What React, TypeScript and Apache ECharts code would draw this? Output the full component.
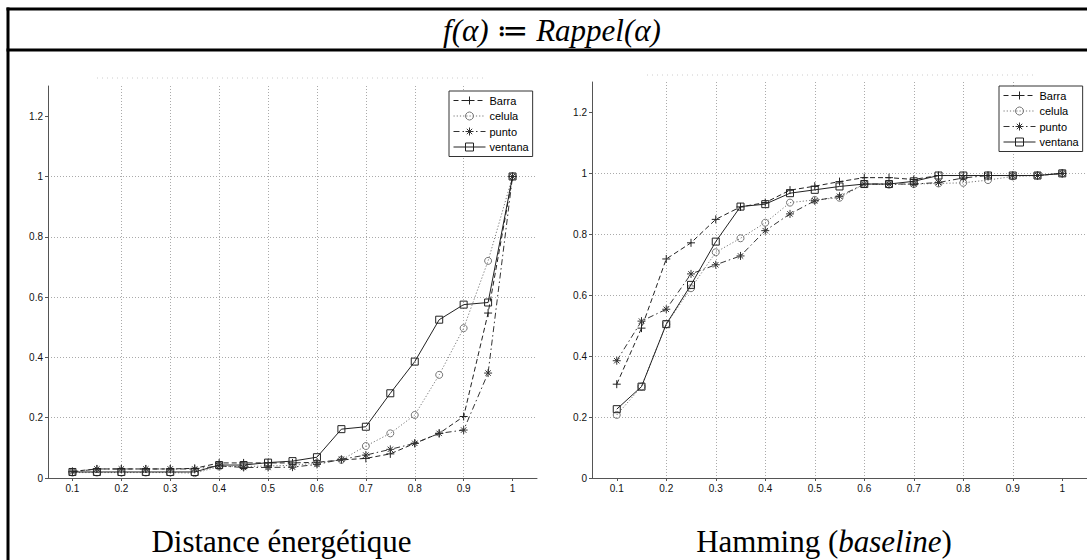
import React, { useEffect, useRef } from 'react';
import * as echarts from 'echarts';

// ---------- data ----------
const alphas = [0.1, 0.15, 0.2, 0.25, 0.3, 0.35, 0.4, 0.45, 0.5, 0.55, 0.6, 0.65, 0.7, 0.75, 0.8, 0.85, 0.9, 0.95, 1.0];
const xTickValues = [0.1, 0.2, 0.3, 0.4, 0.5, 0.6, 0.7, 0.8, 0.9, 1];
const yTickValues = [0, 0.2, 0.4, 0.6, 0.8, 1, 1.2];
const seriesNames = ['Barra', 'celula', 'punto', 'ventana'];

// Distance énergétique (left)
const energyBarra = [0.022, 0.03, 0.03, 0.03, 0.03, 0.032, 0.05, 0.05, 0.05, 0.05, 0.052, 0.06, 0.065, 0.08, 0.115, 0.148, 0.204, 0.547, 1.0];
const energyCelula = [0.018, 0.018, 0.018, 0.018, 0.018, 0.016, 0.038, 0.038, 0.04, 0.042, 0.05, 0.06, 0.106, 0.148, 0.209, 0.342, 0.497, 0.72, 1.0];
const energyPunto = [0.02, 0.03, 0.03, 0.03, 0.03, 0.03, 0.04, 0.035, 0.035, 0.036, 0.045, 0.062, 0.076, 0.095, 0.115, 0.148, 0.159, 0.348, 1.0];
const energyVentana = [0.02, 0.02, 0.02, 0.02, 0.02, 0.02, 0.043, 0.043, 0.051, 0.056, 0.069, 0.162, 0.17, 0.281, 0.386, 0.525, 0.575, 0.582, 1.0];

// Hamming (baseline) (right)
const hammingBarra = [0.308, 0.492, 0.719, 0.772, 0.849, 0.89, 0.904, 0.945, 0.958, 0.973, 0.986, 0.986, 0.98, 0.993, 0.993, 0.993, 0.993, 0.993, 1.0];
const hammingCelula = [0.207, 0.3, 0.505, 0.623, 0.741, 0.787, 0.838, 0.904, 0.913, 0.92, 0.965, 0.963, 0.965, 0.967, 0.969, 0.978, 0.99, 0.993, 1.0];
const hammingPunto = [0.385, 0.515, 0.554, 0.67, 0.7, 0.729, 0.812, 0.867, 0.91, 0.925, 0.965, 0.965, 0.965, 0.97, 0.985, 0.993, 0.993, 0.993, 1.0];
const hammingVentana = [0.226, 0.3, 0.505, 0.634, 0.776, 0.891, 0.899, 0.935, 0.946, 0.957, 0.965, 0.965, 0.974, 0.993, 0.993, 0.993, 0.993, 0.993, 1.0];

const energyData = [energyBarra, energyCelula, energyPunto, energyVentana];
const hammingData = [hammingBarra, hammingCelula, hammingPunto, hammingVentana];

const titleText = 'f(α) ≔ Rappel(α)';
const leftCaption = 'Distance énergétique';

// ---------- styles ----------
const plusPath = 'path://M4,0V8M0,4H8';
const starPath = 'path://M4,0V8M0,4H8M1.3,1.3L6.7,6.7M6.7,1.3L1.3,6.7';

const seriesStyle: any[] = [
  { symbol: plusPath, symbolSize: 8, dash: [5, 3], color: '#222' },
  { symbol: 'circle', symbolSize: 7, dash: [1.2, 2], color: '#777' },
  { symbol: starPath, symbolSize: 8, dash: [6, 3, 1.5, 3], color: '#333' },
  { symbol: 'rect', symbolSize: 7, dash: 'solid', color: '#222' },
];

const SANS = '"Liberation Sans", Arial, Helvetica, sans-serif';
const SERIF = '"Liberation Serif", "Times New Roman", "DejaVu Serif", serif';

const fmt = (v: number) => String(Math.round(v * 100) / 100);

function makeAxes(gridIndex: number) {
  const common = (vals: number[], min: number, max: number) => ({
    type: 'value',
    gridIndex,
    min,
    max,
    axisLine: { show: true, onZero: false, lineStyle: { color: '#555', width: 1 } },
    axisTick: { show: true, length: 3, customValues: vals, lineStyle: { color: '#555' } },
    axisLabel: {
      customValues: vals,
      formatter: fmt,
      fontSize: 10,
      fontFamily: SANS,
      color: '#111',
      margin: 5,
    },
    splitLine: {
      show: true,
      showMinLine: false,
      showMaxLine: false,
      lineStyle: { type: [1, 2], color: '#aaa', width: 1 },
    },
  });
  return { xAxis: common(xTickValues, 0.05, 1.05), yAxis: common(yTickValues, 0, 1.3) };
}

function makeSeries(gridIndex: number, values: number[][]) {
  return seriesNames.map((name, k) => {
    const st = seriesStyle[k];
    return {
      type: 'line',
      name,
      xAxisIndex: gridIndex,
      yAxisIndex: gridIndex,
      data: alphas.map((a, i) => [a, values[k][i]]),
      symbol: st.symbol,
      symbolSize: st.symbolSize,
      showSymbol: true,
      showAllSymbol: true,
      lineStyle: { color: st.color, width: 1, type: st.dash },
      itemStyle: { color: 'none', borderColor: st.color, borderWidth: 1 },
      emphasis: { disabled: true },
      z: 3 + k,
    };
  });
}

function makeLegend(left: number, top: number) {
  return {
    orient: 'vertical',
    left,
    top,
    selectedMode: false,
    data: seriesNames,
    itemWidth: 32,
    itemHeight: 10,
    itemGap: 2.5,
    padding: [3, 4, 3, 4],
    borderColor: '#333',
    borderWidth: 1,
    borderRadius: 0,
    backgroundColor: '#fff',
    itemStyle: { borderWidth: 1 },
    lineStyle: { width: 1 },
    textStyle: { fontSize: 11, fontFamily: SANS, color: '#000', padding: [0, 0, 0, -1] },
  };
}

export default function App() {
  const ref = useRef<HTMLDivElement>(null);

  useEffect(() => {
    if (!ref.current) return;
    const chart = echarts.init(ref.current, null, { renderer: 'svg' });
    const a0 = makeAxes(0);
    const a1 = makeAxes(1);
    const option: any = {
      animation: false,
      backgroundColor: '#fff',
      grid: [
        { left: 48, top: 86, width: 489, height: 392, containLabel: false },
        { left: 592, top: 82, width: 499, height: 396, containLabel: false },
      ],
      xAxis: [a0.xAxis, a1.xAxis],
      yAxis: [a0.yAxis, a1.yAxis],
      legend: [makeLegend(449, 91), makeLegend(999, 86)],
      series: [...makeSeries(0, energyData), ...makeSeries(1, hammingData)],
      graphic: [
        // table borders
        { type: 'line', shape: { x1: 6.5, y1: 9, x2: 1090, y2: 9 }, style: { stroke: '#000', lineWidth: 3 }, silent: true },
        { type: 'line', shape: { x1: 6.5, y1: 50, x2: 1090, y2: 50 }, style: { stroke: '#000', lineWidth: 3 }, silent: true },
        { type: 'line', shape: { x1: 8, y1: 7.5, x2: 8, y2: 565 }, style: { stroke: '#000', lineWidth: 3 }, silent: true },
        // faint remnants of top box
        { type: 'line', shape: { x1: 97, y1: 78, x2: 487, y2: 78 }, style: { stroke: '#ccc', lineWidth: 1, lineDash: [1, 4] }, silent: true },
        { type: 'line', shape: { x1: 647, y1: 75, x2: 1037, y2: 75 }, style: { stroke: '#ccc', lineWidth: 1, lineDash: [1, 4] }, silent: true },
        // title
        {
          type: 'text',
          x: 552,
          y: 30,
          style: {
            text: titleText,
            font: `italic 31px ${SERIF}`,
            fill: '#000',
            align: 'center',
            verticalAlign: 'middle',
          },
          silent: true,
        },
        // captions
        {
          type: 'text',
          x: 281.5,
          y: 541,
          style: {
            text: leftCaption,
            font: `31px ${SERIF}`,
            fill: '#000',
            align: 'center',
            verticalAlign: 'middle',
          },
          silent: true,
        },
        {
          type: 'text',
          x: 824,
          y: 541,
          style: {
            text: '{n|Hamming (}{i|baseline}{n|)}',
            align: 'center',
            verticalAlign: 'middle',
            rich: {
              n: { fontSize: 31, fontFamily: SERIF, color: '#000' },
              i: { fontSize: 31, fontFamily: SERIF, fontStyle: 'italic', color: '#000' },
            },
          },
          silent: true,
        },
      ],
    };
    chart.setOption(option);
    return () => chart.dispose();
  }, []);

  return (
    <div
      ref={ref}
      style={{ position: 'fixed', left: 0, top: 0, width: 1087, height: 560, background: '#fff' }}
    />
  );
}
